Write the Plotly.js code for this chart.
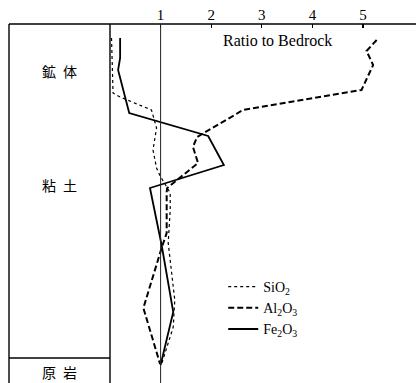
<!DOCTYPE html>
<html>
<head>
<meta charset="utf-8">
<script src="https://cdn.plot.ly/plotly-3.0.1.min.js"></script>
<style>html,body{margin:0;padding:0;background:#fff;}#chart{width:416px;height:383px;}</style>
</head>
<body>
<div id="chart"></div>
<script>
// Depth measured downward from the top of the profile (arbitrary units)
const depthSiO2 = [14, 69, 73, 86, 104, 126, 144, 152, 162, 169, 186, 219, 276, 303, 340];
const ratioSiO2 = [0.03, 0.06, 0.20, 0.82, 0.92, 0.85, 0.92, 0.99, 1.11, 1.19, 1.19, 1.15, 1.28, 1.25, 1.02];

const depthAl2O3 = [16, 27, 41, 66, 86, 113, 123, 139, 164, 168, 209, 224, 284, 340];
const ratioAl2O3 = [5.27, 5.07, 5.20, 4.97, 2.63, 1.72, 1.64, 1.74, 1.13, 1.12, 1.12, 1.02, 0.66, 0.99];

const depthFe2O3 = [14, 34, 46, 89, 112, 141, 164, 221, 288, 341];
const ratioFe2O3 = [0.20, 0.20, 0.16, 0.38, 1.94, 2.25, 0.79, 1.02, 1.25, 1.00];

const tickVals = [1, 2, 3, 4, 5];
const tickText = ['1', '2', '3', '4', '5'];
const zoneLabels = ['鉱\u2002体', '粘\u2002土', '原\u2002岩'];
const zoneLabelY = [0.868, 0.552, 0.031];

const serif = '"Liberation Serif", "DejaVu Serif", serif';
const cjk = '"Noto Sans CJK JP", sans-serif';

const traces = [
  {x: ratioSiO2, y: depthSiO2, name: 'SiO<sub>2</sub>', mode: 'lines',
   line: {color: '#000', width: 1.2, dash: 'dot'}},
  {x: ratioAl2O3, y: depthAl2O3, name: 'Al<sub>2</sub>O<sub>3</sub>', mode: 'lines',
   line: {color: '#000', width: 2, dash: '6px,3px'}},
  {x: ratioFe2O3, y: depthFe2O3, name: 'Fe<sub>2</sub>O<sub>3</sub>', mode: 'lines',
   line: {color: '#000', width: 1.8}}
];

const boxL = -101 / 306;
const layout = {
  width: 416, height: 383,
  margin: {l: 110, r: 0, t: 24, b: 0, pad: 0},
  paper_bgcolor: '#fff', plot_bgcolor: '#fff',
  showlegend: true,
  legend: {x: 0.37, y: 0.312, xanchor: 'left', yanchor: 'top',
           font: {family: serif, size: 14, color: '#000'},
           bgcolor: 'rgba(0,0,0,0)', tracegroupgap: 0},
  xaxis: {side: 'top', range: [0, 306 / 50.6], tickvals: tickVals, ticktext: tickText,
          ticks: 'inside', ticklen: 4, tickwidth: 1.2, tickcolor: '#000',
          showline: false, showgrid: false, zeroline: false,
          tickfont: {family: serif, size: 15, color: '#000'}},
  yaxis: {range: [359, 0], visible: false, showgrid: false, zeroline: false},
  shapes: [
    {type: 'line', xref: 'paper', yref: 'paper', x0: boxL, x1: 1, y0: 1, y1: 1,
     line: {color: '#000', width: 1.6}},
    {type: 'line', xref: 'paper', yref: 'paper', x0: boxL, x1: boxL, y0: 0, y1: 1,
     line: {color: '#000', width: 1.4}},
    {type: 'line', xref: 'paper', yref: 'paper', x0: 0, x1: 0, y0: 0, y1: 1,
     line: {color: '#000', width: 1.4}},
    {type: 'line', xref: 'paper', yref: 'paper', x0: boxL, x1: 0, y0: 0.0696, y1: 0.0696,
     line: {color: '#000', width: 1.4}},
    {type: 'line', xref: 'x', yref: 'paper', x0: 1, x1: 1, y0: 0, y1: 1,
     line: {color: '#222', width: 1}}
  ],
  annotations: [
    {text: 'Ratio to Bedrock', xref: 'paper', yref: 'paper', x: 0.549, y: 0.955,
     xanchor: 'center', yanchor: 'middle',
     showarrow: false, font: {family: serif, size: 16, color: '#000'}}
  ].concat(zoneLabels.map((t, i) => ({
     text: t, xref: 'paper', yref: 'paper', x: -51 / 306, y: zoneLabelY[i],
     xanchor: 'center', yanchor: 'middle',
     showarrow: false, font: {family: cjk, size: 14, color: '#000'}})))
};

Plotly.newPlot('chart', traces, layout, {staticPlot: true, displayModeBar: false});
</script>
</body>
</html>
